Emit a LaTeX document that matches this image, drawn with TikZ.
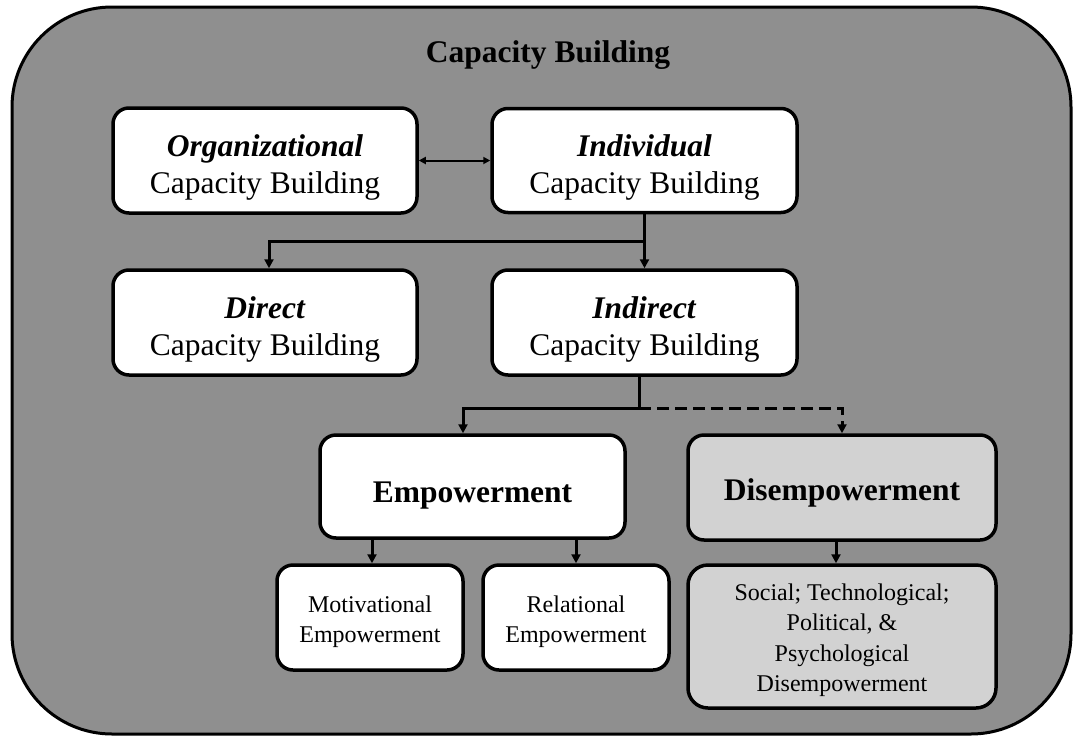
\documentclass[tikz,border=0pt]{standalone}
\usepackage{fontspec}
\setmainfont{Liberation Serif}
\usetikzlibrary{arrows.meta}
\definecolor{outergray}{RGB}{143,143,143}
\definecolor{lightbox}{RGB}{210,210,210}
\newcommand\topstrut[1]{\rule{0pt}{#1}}
\tikzset{
  box/.style={draw=black, line width=3.5pt, rounded corners=16pt, fill=white,
    align=center, inner sep=0pt, anchor=center},
  bigtext/.style={font=\fontsize{31.5}{37.5}\selectfont},
  smalltext/.style={font=\fontsize{24}{30.5}\selectfont},
  conn/.style={draw=black, line width=3pt, -{Triangle[length=9pt,width=9pt]}},
  plainline/.style={draw=black, line width=3pt},
  dbl/.style={draw=black, line width=2pt, {Triangle[length=7pt,width=7pt]}-{Triangle[length=7pt,width=7pt]}}
}
\begin{document}
\begin{tikzpicture}[x=1pt,y=-1pt]
\useasboundingbox (0,0) rectangle (1074,737);
\fill[white] (0,0) rectangle (1074,737);
\draw[line width=3pt, fill=outergray, rounded corners=100pt] (12,7) rectangle (1071,734);

\node[bigtext] (title) at (548,55) {\textbf{Capacity Building}};

\node[box,bigtext,minimum width=304pt,minimum height=105pt] (org) at (265,160.5)
  {\topstrut{36pt}\textbf{\textit{Organizational}}\\Capacity Building};
\node[box,bigtext,minimum width=305pt,minimum height=104pt] (ind) at (644.5,160.5)
  {\topstrut{36pt}\textbf{\textit{Individual}}\\Capacity Building};
\node[box,bigtext,minimum width=304pt,minimum height=105pt] (dir) at (265,322.5)
  {\topstrut{36pt}\textbf{\textit{Direct}}\\Capacity Building};
\node[box,bigtext,minimum width=305pt,minimum height=105pt] (indir) at (644.5,322.5)
  {\topstrut{36pt}\textbf{\textit{Indirect}}\\Capacity Building};
\node[box,bigtext,minimum width=305pt,minimum height=103pt] (emp) at (472.5,486.5)
  {\topstrut{38pt}\textbf{Empowerment}};
\node[box,bigtext,fill=lightbox,minimum width=308pt,minimum height=105pt] (dis) at (842,487.5)
  {\topstrut{32pt}\textbf{Disempowerment}};
\node[box,smalltext,minimum width=186pt,minimum height=105pt] (mot) at (370,617.5)
  {\topstrut{25pt}Motivational\\Empowerment};
\node[box,smalltext,minimum width=186pt,minimum height=105pt] (rel) at (576,617.5)
  {\topstrut{25pt}Relational\\Empowerment};
\node[box,smalltext,fill=lightbox,rounded corners=20pt,minimum width=308pt,minimum height=143pt] (soc) at (842,636.5)
  {\topstrut{24pt}Social; Technological;\\Political, \&\\Psychological\\Disempowerment};

\draw[dbl] (org.east) -- (ind.west);

\coordinate (j1) at (644.5,241);
\draw[conn] (ind.south) -- (indir.north);
\draw[conn] (j1) -| ([xshift=4pt]dir.north);

\coordinate (j2) at (639,408);
\draw[plainline] ([xshift=-5.5pt]indir.south) -- (j2);
\draw[conn] (j2) -| ([xshift=-9.5pt]emp.north);
\draw[conn, dash pattern=on 12pt off 6pt] (j2) -| (dis.north);

\draw[conn] ([xshift=2pt]mot.north |- emp.south) -- ([xshift=2pt]mot.north);
\draw[conn] (rel.north |- emp.south) -- (rel.north);
\draw[conn] ([xshift=-6pt]dis.south) -- ([xshift=-6pt]soc.north);
\end{tikzpicture}
\end{document}
